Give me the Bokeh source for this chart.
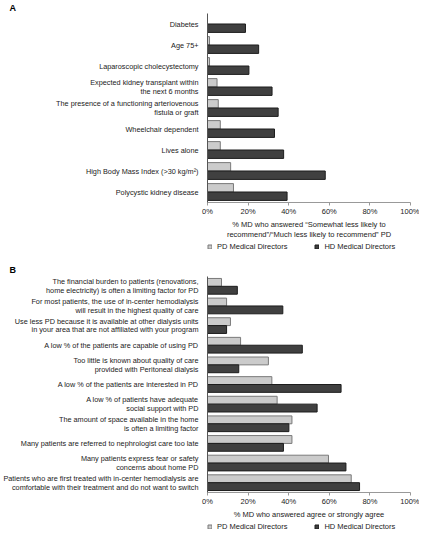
from bokeh.plotting import figure
from bokeh.models import (ColumnDataSource, FactorRange, Range1d, FixedTicker,
                          PrintfTickFormatter, Legend, LegendItem)
from bokeh.transform import dodge
from bokeh.layouts import column
from bokeh.embed import file_html
from bokeh.resources import INLINE

# ---------------- data ----------------
cats_a = [
    "Diabetes",
    "Age 75+",
    "Laparoscopic cholecystectomy",
    "Expected kidney transplant within\nthe next 6 months",
    "The presence of a functioning arteriovenous\nfistula or graft",
    "Wheelchair dependent",
    "Lives alone",
    "High Body Mass Index (>30 kg/m\u00b2)",
    "Polycystic kidney disease",
]
pd_a = [0.0, 1.0, 1.0, 4.7, 5.3, 6.3, 6.3, 11.4, 12.8]
hd_a = [18.7, 25.2, 20.4, 31.8, 34.8, 33.0, 37.5, 58.0, 39.2]

cats_b = [
    "The financial burden to patients (renovations,\nhome electricity) is often a limiting factor for PD",
    "For most patients, the use of in-center hemodialysis\nwill result in the highest quality of care",
    "Use less PD because it is available at other dialysis units\nin your area that are not affiliated with your program",
    "A low % of the patients are capable of using PD",
    "Too little is known about quality of care\nprovided with Peritoneal dialysis",
    "A low % of the patients are interested in PD",
    "A low % of patients have adequate\nsocial support with PD",
    "The amount of space available in the home\nis often a limiting factor",
    "Many patients are referred to nephrologist care too late",
    "Many patients express fear or safety\nconcerns about home PD",
    "Patients who are first treated with in-center hemodialysis are\ncomfortable with their treatment and do not want to switch",
]
pd_b = [6.9, 9.4, 11.3, 16.3, 30.0, 31.7, 34.3, 41.6, 41.6, 59.6, 70.8]
hd_b = [14.7, 37.1, 9.4, 46.7, 15.4, 65.8, 54.0, 40.1, 37.4, 68.2, 74.9]

x_ticks = [0, 20, 40, 60, 80, 100]
series_names = ["PD Medical Directors", "HD Medical Directors"]
title_a = "% MD who answered \u201cSomewhat less likely to\nrecommend\u201d/\u201cMuch less likely to recommend\u201d PD"
title_b = "% MD who answered agree or strongly agree"

FONT = "Liberation Sans"
TXT = "#222222"
PD_FILL, PD_LINE = "#cbcbcb", "#7a7a7a"
HD_FILL, HD_LINE = "#404040", "#1c1c1c"
LEFT, RIGHT, W = 200, 9, 419


def make_panel(letter, cats, pdv, hdv, xtitle, height, top, frame_h, letter_standoff):
    src = ColumnDataSource(dict(cat=cats, pd=pdv, hd=hdv))
    p = figure(width=W, height=height,
               y_range=FactorRange(factors=list(reversed(cats)), range_padding=0),
               x_range=Range1d(0, 100),
               output_backend="svg", toolbar_location=None,
               min_border_left=LEFT, min_border_right=RIGHT,
               min_border_top=top, min_border_bottom=height - top - frame_h)
    p.outline_line_color = None
    p.grid.visible = False
    p.background_fill_color = None
    p.border_fill_color = None

    p.title.text = letter
    p.title.align = "left"
    p.title.offset = -LEFT + 2
    p.title.standoff = letter_standoff
    p.title.text_font = FONT
    p.title.text_font_size = "9px"
    p.title.text_font_style = "bold"
    p.title.text_color = "#000000"

    p.hbar(y=dodge("cat", 0.2, range=p.y_range), right="pd", left=0, height=0.4,
           source=src, fill_color=PD_FILL, line_color=PD_LINE, line_width=1)
    p.hbar(y=dodge("cat", -0.2, range=p.y_range), right="hd", left=0, height=0.4,
           source=src, fill_color=HD_FILL, line_color=HD_LINE, line_width=1)

    ya = p.yaxis[0]
    ya.major_tick_line_color = None
    ya.minor_tick_line_color = None
    ya.axis_line_color = "#555555"
    ya.major_label_text_font = FONT
    ya.major_label_text_font_size = "7.3px"
    ya.major_label_text_color = TXT
    ya.major_label_text_line_height = 0.97
    ya.major_label_standoff = 3

    xa = p.xaxis[0]
    xa.ticker = FixedTicker(ticks=x_ticks)
    xa.formatter = PrintfTickFormatter(format="%d%%")
    xa.axis_line_color = "#999999"
    xa.major_tick_line_color = "#999999"
    xa.major_tick_out = 3
    xa.major_tick_in = 0
    xa.minor_tick_line_color = None
    xa.major_label_text_font = FONT
    xa.major_label_text_font_size = "7.5px"
    xa.major_label_text_color = TXT
    xa.major_label_standoff = 1
    xa.axis_label = xtitle
    xa.axis_label_text_font = FONT
    xa.axis_label_text_font_size = "7.5px"
    xa.axis_label_text_font_style = "normal"
    xa.axis_label_text_color = TXT
    xa.axis_label_text_line_height = 1.2
    xa.axis_label_standoff = 1
    return p


def make_legend(height):
    q = figure(width=W, height=height, x_range=Range1d(0, 1), y_range=Range1d(0, 1),
               output_backend="svg", toolbar_location=None,
               x_axis_location=None, y_axis_location=None,
               min_border_left=LEFT, min_border_right=RIGHT,
               min_border_top=0, min_border_bottom=0)
    q.outline_line_color = None
    q.grid.visible = False
    q.background_fill_color = None
    q.border_fill_color = None
    # legend-only renderers (no visible marks)
    blank = ColumnDataSource(dict(y=[float("nan")], r=[float("nan")]))
    r1 = q.hbar(y="y", right="r", left=0, height=0.4, source=blank,
                fill_color=PD_FILL, line_color=PD_LINE, line_width=1)
    r2 = q.hbar(y="y", right="r", left=0, height=0.4, source=blank,
                fill_color=HD_FILL, line_color=HD_LINE, line_width=1)
    lg = Legend(items=[LegendItem(label=series_names[0], renderers=[r1]),
                       LegendItem(label=series_names[1], renderers=[r2])],
                orientation="horizontal", location="top_left",
                glyph_width=5, glyph_height=5, label_standoff=5, spacing=27,
                padding=0, margin=0, label_height=9,
                border_line_color=None, background_fill_alpha=0,
                label_text_font=FONT, label_text_font_size="7.5px",
                label_text_color=TXT)
    q.add_layout(lg, "center")
    return q


pa = make_panel("A", cats_a, pd_a, hd_a, title_a, height=242, top=11, frame_h=192,
                letter_standoff=1)
la = make_legend(12)
pb = make_panel("B", cats_b, pd_b, hd_b, title_b, height=268, top=22, frame_h=216,
                letter_standoff=3)
lb = make_legend(13)

layout = column(pa, la, pb, lb, spacing=0)
open("out.html", "w").write(file_html(layout, INLINE))
